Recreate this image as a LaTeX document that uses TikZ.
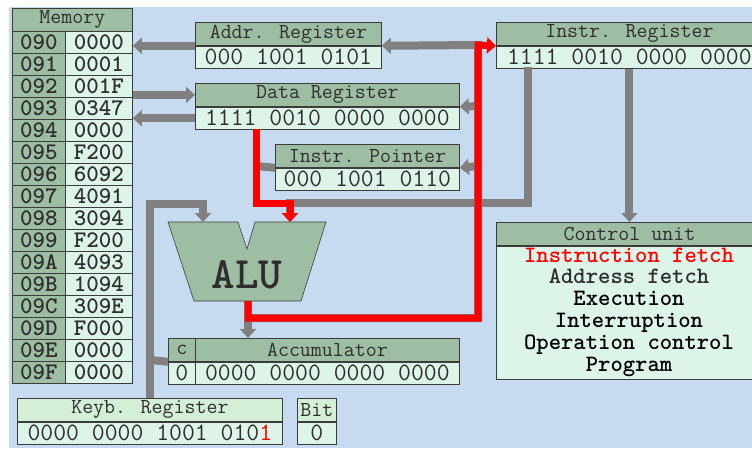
\documentclass[tikz,border=0pt]{standalone}
\usetikzlibrary{arrows.meta}

\definecolor{bgblue}{HTML}{C6DBF0}
\definecolor{hdrgreen}{HTML}{9DBEA3}
\definecolor{mint}{HTML}{DCF5E8}
\definecolor{lightgreen}{HTML}{D4EFD8}
\definecolor{busgray}{HTML}{808080}
\definecolor{edge}{HTML}{3C3C3C}
\definecolor{ink}{HTML}{2E2E2E}

\tikzset{
  cell/.style={draw=edge, line width=0.8pt, inner sep=0pt, anchor=north west, text=ink},
  hdr/.style={cell, fill=hdrgreen, minimum height=23pt, font=\ttfamily\fontsize{21.3}{22}\selectfont},
  khdr/.style={hdr, fill=lightgreen},
  val/.style={cell, fill=mint, minimum height=22pt, font=\ttfamily\fontsize{25}{26}\selectfont},
  maddr/.style={cell, fill=hdrgreen, minimum width=53pt, minimum height=22pt, font=\ttfamily\fontsize{23.8}{24}\selectfont\bfseries},
  mval/.style={cell, fill=mint, minimum width=67pt, minimum height=22pt, font=\ttfamily\fontsize{23.8}{24}\selectfont\bfseries},
  culine/.style={font=\ttfamily\fontsize{23.5}{24}\selectfont\bfseries, inner sep=0pt,
    text height=14pt, text depth=4pt},
  bus/.style={draw=busgray, line width=8pt},
  ctrl/.style={draw=red, line width=7pt},
  tip/.style={-{Triangle[width=16pt,length=9pt]}},
}

% [header style]{name}{x}{y}{width}{title}{value}
\newcommand\regbox[7][hdr]{%
  \node[#1, minimum width=#5pt] (#2-h) at (#3,#4) {#6};
  \node[val, minimum width=#5pt] (#2) at (#2-h.south west) {#7};
}

\begin{document}
\begin{tikzpicture}[x=1pt, y=-1pt]
  \useasboundingbox (0,0) rectangle (752,448);
  \clip (0,0) rectangle (752,448);
  \fill[white] (0,0) rectangle (752,448);
  \fill[bgblue] (9,7) rectangle (752,448);

  % memory
  \node[hdr, minimum width=120pt] (mem-h) at (12,8) {Memory};
  \foreach \a/\v [count=\i from 0] in {090/0000, 091/0001, 092/001F, 093/0347,
      094/0000, 095/F200, 096/6092, 097/4091, 098/3094, 099/F200, 09A/4093,
      09B/1094, 09C/309E, 09D/F000, 09E/0000, 09F/0000} {
    \node[maddr] (a\a) at (12,31+22*\i) {\a};
    \node[mval] (v\a) at (65,31+22*\i) {\v};
  }

  % registers
  \regbox{areg}{195}{22}{186}{Addr. Register}{000 1001 0101}
  \regbox{dreg}{195}{83}{264}{Data Register}{1111 0010 0000 0000}
  \regbox{ipt}{275}{144}{184}{Instr. Pointer}{000 1001 0110}
  \regbox{ireg}{496}{22}{266}{Instr. Register}{1111 0010 0000 0000}
  \regbox{carry}{168}{338}{27}{c}{0}
  \regbox{acc}{195}{338}{264}{Accumulator}{0000 0000 0000 0000}
  \regbox[khdr]{kreg}{17}{398}{265}{Keyb. Register}{0000 0000 1001 010{\color{red}1}}
  \regbox[khdr]{bit}{297}{398}{39}{Bit}{0}

  % control unit
  \node[hdr, minimum width=266pt] (cu-h) at (496,222) {Control unit};
  \node[cell, fill=mint, minimum width=266pt, minimum height=133pt] (cu) at (cu-h.south west) {};
  \foreach \t/\c [count=\i from 0] in {Instruction fetch/red, Address fetch/ink,
      Execution/black, Interruption/black, Operation control/black, Program/black}
    \node[culine, text=\c] (cu\i) at (629,257+21.8*\i) {\t};

  % ALU
  \draw[edge, fill=hdrgreen, line width=0.6pt] (168,222) -- (238,222) -- (247,249)
    -- (255,222) -- (326,222) -- (301,301) -- (194,301) -- cycle;
  \node[font=\ttfamily\fontsize{45}{45}\selectfont\bfseries, text=ink] (alu) at (247,275) {ALU};
  \coordinate (alu-a) at (203,222);
  \coordinate (alu-b) at (290,222);
  \coordinate (alu-o) at (248,301);

  % gray buses
  \draw[bus, tip] (areg-h.south west) -- (areg-h.south west -| mem-h.east);
  \draw[bus, tip] (dreg-h.west -| mem-h.east) -- (dreg-h.west);
  \draw[bus, tip] (dreg.west) -- (dreg.west -| mem-h.east);
  \draw[bus, tip] (ireg.south) -- (cu-h.north);
  \draw[bus, tip] (528,67) -- (528,203) -- (290,203) -- (alu-b);
  \draw[bus] (ipt-h.south west) -- (256,166);
  \draw[bus, tip] (kreg-h.north west -| 150,0) -- (150,204) -- (203,204) -- (alu-a);
  \draw[bus] (150,360) -- (carry-h.south west);
  \draw[bus, tip] (alu-o) -- (acc-h.north west -| alu-o);
  \draw[bus, tip] (248,318) -- (478,318) -- (478,45) -- (areg-h.south east);
  \draw[bus, tip] (478,106) -- (dreg-h.south east);
  \draw[bus, tip] (478,166) -- (ipt-h.south east);

  % red control path
  \draw[ctrl, tip] (256,129) -- (256,203) -- (290,203) -- (alu-b);
  \draw[ctrl, tip] (alu-o) -- (248,318) -- (478,318) -- (478,45) -- (ireg-h.south west);
\end{tikzpicture}
\end{document}
